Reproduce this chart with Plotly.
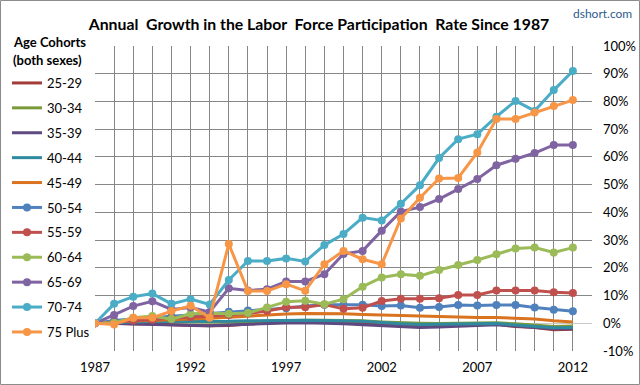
import plotly.graph_objects as go

years = list(range(1987, 2013))

cohorts = ["25-29", "30-34", "35-39", "40-44", "45-49", "50-54",
           "55-59", "60-64", "65-69", "70-74", "75 Plus"]

v_25_29 = [0, 0, -0.2, -0.3, -0.6, -0.8, -0.9, -0.8, -0.3, 0.2, 0.5, 0.6, 0.5,
           0.3, 0, -0.5, -0.8, -1.0, -0.8, -0.6, -0.5, -0.3, -1.2, -1.5, -2.3, -2.2]
v_30_34 = [0, 0.3, 0.5, 0.6, 0.5, 0.4, 0.3, 0.4, 0.6, 0.8, 1.0, 1.1, 1.1,
           1.0, 0.9, 0.5, 0.2, 0, -0.1, 0, 0.1, 0.2, -0.2, -0.8, -1.2, -1.0]
v_35_39 = [0, 0, -0.3, -0.5, -0.7, -0.8, -0.9, -0.6, -0.3, -0.1, 0.1, 0.2, 0.1,
           -0.2, -0.5, -0.9, -1.3, -1.5, -1.3, -1.0, -0.8, -0.5, -1.0, -1.6, -2.0, -2.0]
v_40_44 = [0, 0.3, 0.5, 0.6, 0.6, 0.5, 0.5, 0.7, 0.9, 1.0, 1.1, 1.1, 1.0,
           0.9, 0.7, 0.3, -0.2, -0.4, -0.4, -0.3, -0.2, -0.1, -0.6, -1.2, -1.6, -1.5]
v_45_49 = [0, 0.5, 0.8, 1.0, 1.2, 1.5, 1.8, 2.2, 2.6, 3.0, 3.3, 3.5, 3.5,
           3.4, 3.2, 3.0, 2.8, 2.5, 2.3, 2.1, 2.1, 2.1, 1.9, 1.5, 0.9, 0.5]
v_50_54 = [0, 1.0, 1.5, 2.0, 2.5, 3.0, 3.5, 4.2, 4.6, 5.0, 5.4, 6.2, 6.7,
           6.7, 6.7, 6.2, 6.4, 5.6, 5.9, 6.6, 6.4, 6.6, 6.6, 5.7, 4.9, 4.3]
v_55_59 = [0, 0.5, 1.0, 1.3, 1.8, 2.3, 2.5, 3.0, 3.5, 4.4, 5.8, 5.8, 6.8,
           5.2, 5.6, 8.0, 8.8, 8.8, 9.0, 10.2, 10.2, 11.8, 11.8, 11.8, 11.2, 10.9]
v_60_64 = [0, 0.2, 2.0, 2.6, 1.5, 3.4, 3.6, 3.4, 3.7, 5.7, 7.8, 8.1, 6.9,
           8.7, 13.2, 16.5, 17.7, 17.1, 19.2, 21.0, 22.8, 24.9, 27.0, 27.3, 25.5, 27.3]
v_65_69 = [0, 3.0, 6.2, 7.9, 5.0, 5.7, 4.1, 12.6, 11.8, 12.3, 15.1, 15.1, 17.7,
           25.0, 26.1, 33.4, 40.3, 41.9, 44.8, 48.4, 52.0, 57.0, 59.3, 61.4, 64.3, 64.3]
v_70_74 = [0, 7.0, 9.6, 10.7, 7.0, 8.7, 6.8, 15.6, 22.5, 22.5, 23.4, 22.3, 28.2,
           32.2, 38.1, 37.1, 43.1, 49.8, 59.6, 66.4, 68.2, 74.5, 80.2, 76.6, 84.1, 91.0]
v_75_plus = [0, -0.4, 2.0, 2.0, 4.4, 6.3, 2.0, 28.6, 11.6, 11.6, 14.1, 11.7, 21.3,
             26.1, 23.1, 21.3, 37.8, 45.3, 52.2, 52.4, 61.6, 73.7, 73.7, 76.0, 78.4, 80.5]

series = [v_25_29, v_30_34, v_35_39, v_40_44, v_45_49, v_50_54,
          v_55_59, v_60_64, v_65_69, v_70_74, v_75_plus]
colors = ["#A33B38", "#7A9A3A", "#5E4A80", "#2F8AA0", "#D9731F", "#4F81BD",
          "#C0504D", "#9BBB59", "#8064A2", "#4BACC6", "#F79646"]
with_markers = [False] * 5 + [True] * 6

x_ticks = [1987, 1992, 1997, 2002, 2007, 2012]
y_ticks = list(range(-10, 101, 10))

FONT = "Lato"

fig = go.Figure()
for name, vals, col, mk in zip(cohorts, series, colors, with_markers):
    fig.add_trace(go.Scatter(
        x=years, y=vals, name=name, legendgroup=name,
        mode="lines+markers" if mk else "lines",
        line=dict(color=col, width=3),
        marker=dict(size=8, color=col),
    ))

L, R, T, B = 95, 592, 46, 351
W, H = 640, 385
pw, ph = R - L, B - T

def px2paper_x(p):
    return (p - L) / pw

def px2paper_y(p):
    return (B - p) / ph

fig.update_layout(
    width=W, height=H,
    margin=dict(l=L, r=W - R, t=T, b=H - B, pad=0, autoexpand=False),
    paper_bgcolor="white", plot_bgcolor="white",
    font=dict(family=FONT, size=13, color="black"),
    showlegend=True,
    legend=dict(
        x=px2paper_x(7), y=px2paper_y(68), xanchor="left", yanchor="top",
        font=dict(size=13), tracegroupgap=5, itemwidth=30,
        bgcolor="rgba(0,0,0,0)", maxheight=400,
    ),
    xaxis=dict(
        range=[1987, 2013], tickvals=x_ticks, ticktext=[str(t) for t in x_ticks],
        showgrid=True, gridcolor="#878787", gridwidth=1,
        minor=dict(dtick=1, tick0=1987, showgrid=True, gridcolor="#878787", gridwidth=1),
        zeroline=False, showline=False, ticks="", ticklabelstandoff=7,
        tickfont=dict(size=13),
    ),
    yaxis=dict(
        range=[-10, 100], tickvals=y_ticks, ticktext=[f"{t}%" for t in y_ticks],
        side="right", showgrid=True, gridcolor="#878787", gridwidth=1,
        zeroline=True, zerolinecolor="#C8C8C8", zerolinewidth=1,
        showline=False, ticks="", ticklabelstandoff=10,
        tickfont=dict(size=13),
    ),
    title=dict(text="<b>Annual  Growth in the Labor  Force Participation  Rate Since 1987</b>",
               x=319 / W, xanchor="center", y=1 - 24 / H, yanchor="middle",
               font=dict(size=15.8, family=FONT)),
    annotations=[
        dict(text="dshort.com", xref="paper", yref="paper",
             x=px2paper_x(634), y=px2paper_y(13), xanchor="right", yanchor="middle",
             showarrow=False, font=dict(size=12, color="#2E5C8E", family=FONT)),
        dict(text="<b>Age Cohorts</b>", xref="paper", yref="paper",
             x=px2paper_x(11), y=px2paper_y(42), xanchor="left", yanchor="middle",
             showarrow=False, font=dict(size=13, family=FONT)),
        dict(text="<b>(both sexes)</b>", xref="paper", yref="paper",
             x=px2paper_x(11), y=px2paper_y(60), xanchor="left", yanchor="middle",
             showarrow=False, font=dict(size=13, family=FONT)),
    ],
    shapes=[dict(type="rect", xref="paper", yref="paper",
                 x0=px2paper_x(0.5), x1=px2paper_x(639.5),
                 y0=px2paper_y(384.5), y1=px2paper_y(0.5),
                 line=dict(color="#8C8C8C", width=1), fillcolor="rgba(0,0,0,0)", layer="below")],
)

fig.write_html("out.html", config={"displayModeBar": False},
               post_script="document.body.style.margin='0';")
